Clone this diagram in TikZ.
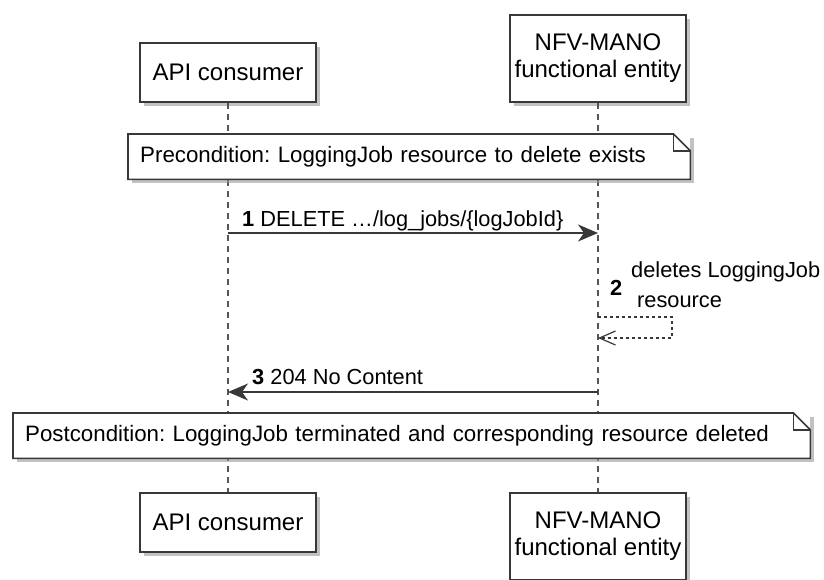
\documentclass[tikz,border=0pt]{standalone}
\usepackage{fontspec}
\setmainfont{Liberation Sans}
\usetikzlibrary{arrows.meta}
\usetikzlibrary{shadows}

\definecolor{boxgray}{RGB}{56,56,56}
\definecolor{linegray}{RGB}{85,85,85}

\tikzset{
  actor/.style={draw=boxgray, fill=white, line width=1.8pt, minimum width=176pt,
    align=center, font=\fontsize{24}{27}\selectfont,
    drop shadow={shadow xshift=4pt, shadow yshift=-4pt, fill=black!40, opacity=0.6}},
  life/.style={draw=linegray, line width=1.2pt, dash pattern=on 6pt off 5pt},
  notebox/.style={fill=white, anchor=north west, align=left, inner xsep=12pt,
    minimum height=45pt, font=\fontsize{22.3}{26}\selectfont,
    drop shadow={shadow xshift=4pt, shadow yshift=-4pt, fill=black!40, opacity=0.6}},
  noteline/.style={draw=boxgray, line width=1.6pt, line join=miter},
  msg/.style={draw=boxgray, line width=1.5pt, -{Stealth[length=20pt, width=17pt, inset=6pt]}},
  selfmsg/.style={draw=boxgray, line width=1.2pt, dash pattern=on 3pt off 3pt,
    -{Straight Barb[length=16pt, width=14pt, line width=1.2pt]}},
  msgtext/.style={inner sep=0pt, font=\fontsize{21.8}{30}\selectfont},
}

\begin{document}
\frenchspacing
\begin{tikzpicture}[x=1pt, y=-1pt]
  \useasboundingbox (0,0) rectangle (824,579);

  \node[actor, minimum height=59pt] (aTop) at (228,72.5) {API consumer};
  \node[actor, minimum height=87pt] (bTop) at (598,58.5) {NFV-MANO\\functional entity};
  \node[actor, minimum height=59pt] (aBot) at (228,522.5) {API consumer};
  \node[actor, minimum height=87pt] (bBot) at (598,536.5) {NFV-MANO\\functional entity};

  \draw[life] (aTop.south) -- (aBot.north);
  \draw[life] (bTop.south) -- (bBot.north);

  \node[notebox, text width=538pt] (pre) at (128,134) {Precondition: LoggingJob resource to delete exists};
  \draw[noteline] (pre.north west) -- ([xshift=-17pt]pre.north east) -- ([yshift=-17pt]pre.north east)
    -- (pre.south east) -- (pre.south west) -- cycle;
  \draw[noteline] ([xshift=-17pt]pre.north east) |- ([yshift=-17pt]pre.north east);

  \coordinate (m1s) at (228,233);
  \coordinate (m1e) at (598,233);
  \draw[msg] (m1s) -- (m1e);
  \node[msgtext, anchor=base west] (m1) at (242,226) {\textbf{1} DELETE …/log\_jobs/\{logJobId\}};

  \coordinate (m2s) at (598,317);
  \coordinate (m2e) at (598,338);
  \draw[selfmsg] (m2s) -- ++(74,0) |- (m2e);
  \node[msgtext, anchor=base west] (m2n) at (610,295) {\textbf{2}};
  \node[msgtext, anchor=west, align=left] (m2) at (631,285) {deletes LoggingJob\\\hspace{6pt}resource};

  \coordinate (m3s) at (598,392);
  \coordinate (m3e) at (228,392);
  \draw[msg] (m3s) -- (m3e);
  \node[msgtext, anchor=base west] (m3) at (252,384) {\textbf{3} 204 No Content};

  \node[notebox, text width=773pt] (post) at (13,413) {Postcondition: LoggingJob terminated and corresponding resource deleted};
  \draw[noteline] (post.north west) -- ([xshift=-17pt]post.north east) -- ([yshift=-17pt]post.north east)
    -- (post.south east) -- (post.south west) -- cycle;
  \draw[noteline] ([xshift=-17pt]post.north east) |- ([yshift=-17pt]post.north east);
\end{tikzpicture}
\end{document}
